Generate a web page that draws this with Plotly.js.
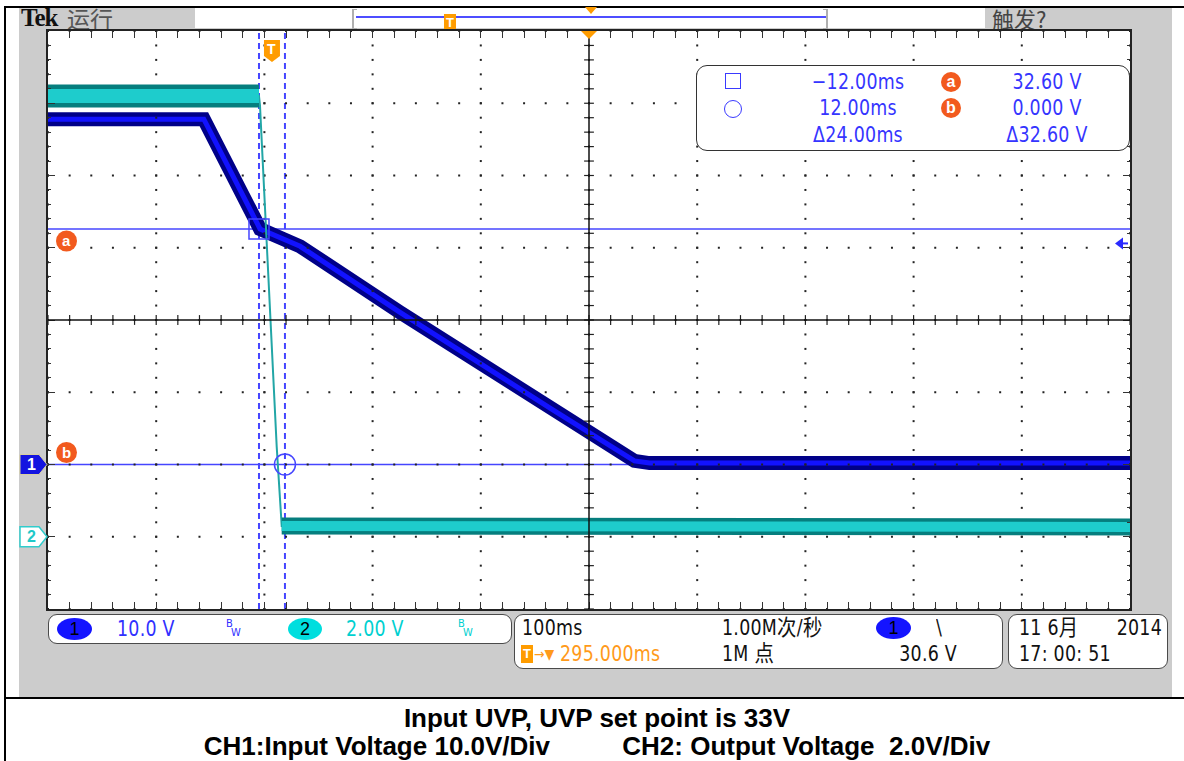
<!DOCTYPE html>
<html><head><meta charset="utf-8">
<script src="https://cdn.plot.ly/plotly-3.0.1.min.js"></script>
<style>
body{margin:0;background:#fff;}
#page{position:relative;width:1184px;height:761px;overflow:hidden;background:#fff;}
.a{position:absolute;white-space:pre;}
.tk{font-family:"Liberation Sans Narrow","DejaVu Sans Condensed","Noto Sans CJK SC",sans-serif;font-size:22px;letter-spacing:0.3px;line-height:22px;}
.cjk{font-family:"Noto Sans CJK SC",sans-serif;}
.box{position:absolute;background:#fff;border:1.5px solid #4a4a4a;border-radius:9px;box-sizing:border-box;}
.ell{position:absolute;border-radius:50%;text-align:center;font-family:"Liberation Sans",Arial,sans-serif;font-size:18px;line-height:22px;color:#000;}
#plot{position:absolute;left:0;top:0;width:1184px;height:761px;z-index:1;}
.ov{z-index:2;}
.cap{position:absolute;left:7px;width:1180px;text-align:center;font-family:"Liberation Sans",Arial,sans-serif;font-weight:bold;font-size:26px;line-height:28px;white-space:pre;color:#000;}
</style>
</head><body>
<div id="page">
  <!-- frame & panel -->
  <div class="a" style="left:19px;top:8px;width:1153px;height:689px;background:#cccccc;"></div>
  <div class="a" style="left:4px;top:6px;width:1180px;height:2px;background:#000;"></div>
  <div class="a" style="left:4px;top:6px;width:2px;height:755px;background:#000;"></div>
  <div class="a" style="left:4px;top:697px;width:1180px;height:2px;background:#000;"></div>
  <!-- header -->
  <div class="a" style="left:195px;top:8px;width:790px;height:20px;background:#fff;"></div>
  <div class="a" style="left:352px;top:9px;width:3px;height:18px;border-left:2px solid #b0b0b0;border-top:1px solid #b0b0b0;border-bottom:1px solid #b0b0b0;"></div>
  <div class="a" style="left:823px;top:9px;width:3px;height:18px;border-right:2px solid #b0b0b0;border-top:1px solid #b0b0b0;border-bottom:1px solid #b0b0b0;"></div>
  <div class="a" style="left:356px;top:16px;width:470px;height:2px;background:#4d4dff;"></div>
  <div class="a" style="left:585px;top:7px;width:0;height:0;border-left:6px solid transparent;border-right:6px solid transparent;border-top:7px solid #ff9c00;"></div>
  <div class="a" style="left:444px;top:14px;width:12px;height:16px;background:#ff9c00;color:#fff;font:bold 13px 'Liberation Sans',Arial;line-height:17px;text-align:center;border-bottom:1px solid #7a5a00;box-sizing:border-box;">T</div>
  <div class="a" style="left:21px;top:4px;font-family:'Liberation Serif',serif;font-weight:bold;font-size:25px;line-height:28px;letter-spacing:-1px;color:#111;">Tek</div>
  <div class="a cjk" style="left:67px;top:4px;font-size:23px;line-height:28px;color:#555;">运行</div>
  <div class="a cjk" style="left:992px;top:4px;font-size:22px;line-height:28px;color:#444;">触发?</div>

  <div id="plot"></div>

  <!-- cursor readout -->
  <div class="box ov" style="left:696px;top:65px;width:434px;height:86px;border-radius:11px;border-color:#333;"></div>
  <div class="a ov" style="left:725px;top:73px;width:16px;height:16px;border:1.5px solid #3a3aff;box-sizing:border-box;"></div>
  <div class="a ov" style="left:724px;top:100px;width:18px;height:18px;border:1.5px solid #3a3aff;border-radius:50%;box-sizing:border-box;"></div>

  <!-- status boxes -->
  <div class="box ov" style="left:48px;top:614px;width:464px;height:30px;"></div>
  <div class="box ov" style="left:514px;top:614px;width:489px;height:55px;"></div>
  <div class="box ov" style="left:1008px;top:614px;width:160px;height:55px;"></div>

  <!-- caption -->
  <div class="cap" style="top:704px;">Input UVP, UVP set point is 33V</div>
  <div class="cap" style="top:732px;">CH1:Input Voltage 10.0V/Div          CH2: Output Voltage  2.0V/Div</div>
</div>
<script>
// ---------------- data ----------------
const timeRangeMs = [-207, 793];      // 100 ms/div, trigger at 0
const ch1RangeV = [-20, 60];          // 10 V/div, CH1 ground 2 div below centre
const ch2RangeV = [-2, 14];           // 2 V/div, CH2 ground 3 div below centre

const ch1Time  = [-207, -63, -11, 12, 26, 118, 211, 257, 319, 335, 349, 500, 793];
const ch1Volts = [47.8, 47.8, 32.6, 31.2, 30.2, 21.1, 12.1, 7.8, 2.0, 0.5, 0.2, 0.2, 0.2];

const ch2Time  = [-207, -100, -12, -11.1, -4.9, -1.8, 4.4, 9.0, 300, 793];
const ch2Volts = [12.2, 12.2, 12.2, 11.95, 7.99, 6.0, 2.48, 0.3, 0.27, 0.27];
const ch2FallStart = 2, ch2FallEnd = 7;   // indices bounding the falling edge

const cursorTimes = [-12.0, 12.0];       // ms
const cursorVolts = [32.6, 0.0];         // V (CH1)
const triggerLevel = 30.6;               // V
const triggerPos = 0;                    // ms

// readout / status texts
const readoutTime = ["\u221212.00ms", "12.00ms", "\u039424.00ms"];
const readoutVolt = ["32.60 V", "0.000 V", "\u039432.60 V"];

// ---------------- helpers ----------------
const SX = 0.88;
function txt(s, x, cy, opt) {
  opt = opt || {};
  const d = document.createElement('div');
  const isTk = !opt.cls;
  d.className = 'a ov ' + (opt.cls || 'tk');
  d.textContent = s;
  const lh = opt.lh || 22;
  d.style.top = (cy - lh / 2) + 'px';
  d.style.lineHeight = lh + 'px';
  if (opt.size) d.style.fontSize = opt.size + 'px';
  d.style.color = opt.color || '#111';
  d.style.left = x + 'px';
  const sc = (isTk && !opt.noscale) ? ' scaleX(' + SX + ')' : '';
  if (opt.align === 'center') { d.style.transform = 'translateX(-50%)' + sc; d.style.transformOrigin = 'center'; }
  else if (opt.align === 'right') { d.style.transform = 'translateX(-100%)' + sc; d.style.transformOrigin = 'right center'; }
  else { d.style.transform = sc || 'none'; d.style.transformOrigin = 'left center'; }
  if (opt.ls !== undefined) d.style.letterSpacing = opt.ls + 'px';
  document.getElementById('page').appendChild(d);
  return d;
}
function ell(x, y, w, h, bg, label) {
  const d = document.createElement('div');
  d.className = 'ell ov';
  d.style.left = x + 'px'; d.style.top = y + 'px';
  d.style.width = w + 'px'; d.style.height = h + 'px';
  d.style.background = bg; d.textContent = label;
  document.getElementById('page').appendChild(d);
}

// readout
const rowY = [82, 108, 135];
const ROB = '#3535ff';
rowY.forEach((y, i) => {
  txt(readoutTime[i], 858, y, {align: 'center', color: ROB});
  txt(readoutVolt[i], 1047, y, {align: 'center', color: ROB});
});
[['a', 82], ['b', 108]].forEach(([l, y]) => {
  const d = document.createElement('div');
  d.className = 'a ov';
  Object.assign(d.style, {left: '941px', top: (y - 10) + 'px', width: '20px', height: '20px', borderRadius: '50%',
    background: '#f25a1e', color: '#fff', font: "bold 16px 'Liberation Sans',Arial", lineHeight: '19px', textAlign: 'center'});
  d.textContent = l;
  document.getElementById('page').appendChild(d);
});

// status bar
ell(57, 618, 35, 22, '#1414ff', '1');
txt('10.0 V', 117, 629, {color: '#3030ff'});
txt('B', 226, 624, {color: '#3030ff', size: 11, lh: 12, ls: 0, noscale: true});
txt('W', 231, 633, {color: '#3030ff', size: 11, lh: 12, ls: 0, noscale: true});
ell(288, 618, 34, 22, '#00dede', '2');
txt('2.00 V', 346, 629, {color: '#00d0d0'});
txt('B', 458, 624, {color: '#00d0d0', size: 11, lh: 12, ls: 0, noscale: true});
txt('W', 463, 633, {color: '#00d0d0', size: 11, lh: 12, ls: 0, noscale: true});

txt('100ms', 522, 628, {color: '#111'});
txt('1.00M次/秒', 722, 628, {color: '#111'});
ell(876, 617, 35, 22, '#1414ff', '1');
txt('\\', 936, 628, {color: '#111'});
(function(){
  const d = document.createElement('div');
  d.className = 'a ov';
  Object.assign(d.style, {left: '521px', top: '645px', width: '12px', height: '18px', background: '#ff9c00',
    color: '#fff', font: "bold 13px 'Liberation Sans',Arial", lineHeight: '18px', textAlign: 'center'});
  d.textContent = 'T';
  document.getElementById('page').appendChild(d);
})();
txt('\u2192\u25BC', 534, 654, {color: '#ff9a1a', size: 14, ls: 0, noscale: true});
txt('295.000ms', 560, 654, {color: '#ff9a1a'});
txt('1M 点', 722, 654, {color: '#111'});
txt('30.6 V', 957, 654, {align: 'right', color: '#111'});
txt('11 6月', 1019, 628, {color: '#111'});
txt('2014', 1162, 628, {align: 'right', color: '#111'});
txt('17: 00: 51', 1019, 654, {color: '#111'});

// ---------------- plot ----------------
const L = 48, R = 1130, T = 31, B = 609;
const W = 1184, H = 761;
const xDiv = 100, yDiv = 10;
const xMinor = xDiv / 5, yMinor = yDiv / 5;
const xCenter = (timeRangeMs[0] + timeRangeMs[1]) / 2;
const yCenter = (ch1RangeV[0] + ch1RangeV[1]) / 2;

// graticule dots (decoration, built from the axis ranges)
const gx = [], gy = [];
for (let i = 0; i <= 10; i++) {
  const xv = timeRangeMs[0] + i * xDiv;
  for (let j = 0; j <= 40; j++) { gx.push(xv); gy.push(ch1RangeV[0] + j * yMinor); }
}
for (let j = 0; j <= 8; j++) {
  const yv = ch1RangeV[0] + j * yDiv;
  for (let i = 0; i <= 50; i++) { gx.push(timeRangeMs[0] + i * xMinor); gy.push(yv); }
}
const tx = [], ty = [], vx = [], vy = [];
for (let i = 0; i <= 50; i++) { tx.push(timeRangeMs[0] + i * xMinor); ty.push(yCenter); }
for (let j = 0; j <= 40; j++) { vx.push(xCenter); vy.push(ch1RangeV[0] + j * yMinor); }

const ch2High = {x: ch2Time.slice(0, ch2FallStart + 1), y: ch2Volts.slice(0, ch2FallStart + 1)};
const ch2Low = {x: ch2Time.slice(ch2FallEnd), y: ch2Volts.slice(ch2FallEnd)};

const traces = [
  {x: ch2Time, y: ch2Volts, yaxis: 'y2', mode: 'lines', line: {color: '#22a6a6', width: 2}},
  {x: ch2High.x, y: ch2High.y, yaxis: 'y2', mode: 'lines', line: {color: '#067e7e', width: 23}},
  {x: ch2High.x, y: ch2High.y, yaxis: 'y2', mode: 'lines', line: {color: '#1ecccc', width: 14}},
  {x: ch2Low.x, y: ch2Low.y, yaxis: 'y2', mode: 'lines', line: {color: '#067e7e', width: 17}},
  {x: ch2Low.x, y: ch2Low.y, yaxis: 'y2', mode: 'lines', line: {color: '#1ecccc', width: 10}},
  {x: ch1Time, y: ch1Volts, mode: 'lines', line: {color: '#000088', width: 14}},
  {x: ch1Time, y: ch1Volts, mode: 'lines', line: {color: '#1212ff', width: 5}},
  {x: gx, y: gy, mode: 'markers', marker: {symbol: 'square', size: 2, color: '#222', line: {width: 0}}},
  {x: tx, y: ty, mode: 'markers', marker: {symbol: 'line-ns', size: 7, line: {width: 1.2, color: '#222'}}},
  {x: vx, y: vy, mode: 'markers', marker: {symbol: 'line-ew', size: 7, line: {width: 1.2, color: '#222'}}}
];

const CUR = '#4646ff';
const shapes = [];
cursorTimes.forEach(t => shapes.push({type: 'line', layer: 'between', xref: 'x', yref: 'paper', x0: t, x1: t, y0: 0, y1: 1,
  line: {color: CUR, width: 2, dash: '6px,4px'}}));
cursorVolts.forEach(v => shapes.push({type: 'line', layer: 'between', xref: 'paper', yref: 'y', x0: 0, x1: 1, y0: v, y1: v,
  line: {color: CUR, width: 1.5}}));
// centre lines
shapes.push({type: 'line', layer: 'above', xref: 'x', yref: 'paper', x0: xCenter, x1: xCenter, y0: 0, y1: 1, line: {color: '#111', width: 1.5}});
shapes.push({type: 'line', layer: 'above', xref: 'paper', yref: 'y', x0: 0, x1: 1, y0: yCenter, y1: yCenter, line: {color: '#111', width: 1.5}});
// cursor markers
shapes.push({type: 'rect', layer: 'above', xref: 'x', yref: 'y', xsizemode: 'pixel', ysizemode: 'pixel',
  xanchor: cursorTimes[0], yanchor: cursorVolts[0], x0: -10, x1: 10, y0: -10, y1: 10, line: {color: CUR, width: 1.5}});
shapes.push({type: 'circle', layer: 'above', xref: 'x', yref: 'y', xsizemode: 'pixel', ysizemode: 'pixel',
  xanchor: cursorTimes[1], yanchor: cursorVolts[1], x0: -10.5, x1: 10.5, y0: -10.5, y1: 10.5, line: {color: CUR, width: 1.5}});
// a / b labels
shapes.push({type: 'circle', layer: 'above', xref: 'paper', yref: 'y', xsizemode: 'pixel', ysizemode: 'pixel',
  xanchor: 0, yanchor: cursorVolts[0], x0: 8, x1: 29, y0: -22.5, y1: -1.5, fillcolor: '#f25a1e', line: {width: 0}});
shapes.push({type: 'circle', layer: 'above', xref: 'paper', yref: 'y', xsizemode: 'pixel', ysizemode: 'pixel',
  xanchor: 0, yanchor: cursorVolts[1], x0: 8, x1: 29, y0: 1.5, y1: 22.5, fillcolor: '#f25a1e', line: {width: 0}});
// channel ground markers
const pent = 'M-28,10 L-9,10 L-1,0 L-9,-10 L-28,-10 Z';
shapes.push({type: 'path', layer: 'above', xref: 'paper', yref: 'y', xsizemode: 'pixel', ysizemode: 'pixel',
  xanchor: 0, yanchor: 0, path: pent, fillcolor: '#1414e0', line: {color: '#d8d0a0', width: 1}});
shapes.push({type: 'path', layer: 'above', xref: 'paper', yref: 'y2', xsizemode: 'pixel', ysizemode: 'pixel',
  xanchor: 0, yanchor: 0, path: pent, fillcolor: '#ffffff', line: {color: '#30cccc', width: 1.5}});
// trigger position marker
shapes.push({type: 'path', layer: 'above', xref: 'x', yref: 'paper', xsizemode: 'pixel', ysizemode: 'pixel',
  xanchor: triggerPos, yanchor: 1, path: 'M-8,-9 L8,-9 L8,-25 L0,-31 L-8,-25 Z', fillcolor: '#ff9c00', line: {width: 0}});
// horizontal position marker
shapes.push({type: 'path', layer: 'above', xref: 'x', yref: 'paper', xsizemode: 'pixel', ysizemode: 'pixel',
  xanchor: xCenter, yanchor: 1, path: 'M-8,0 L8,0 L0,-8 Z', fillcolor: '#ff9c00', line: {width: 0}});
// trigger level arrow
shapes.push({type: 'path', layer: 'above', xref: 'paper', yref: 'y', xsizemode: 'pixel', ysizemode: 'pixel',
  xanchor: 1, yanchor: triggerLevel, path: 'M-15,0 L-7,6 L-7,-6 Z', fillcolor: '#2a2aff', line: {width: 0}});
shapes.push({type: 'path', layer: 'above', xref: 'paper', yref: 'y', xsizemode: 'pixel', ysizemode: 'pixel',
  xanchor: 1, yanchor: triggerLevel, path: 'M-8,0 L-2,0', line: {color: '#2a2aff', width: 2}});

const annFont = {family: 'Liberation Sans, Arial', size: 15, color: '#fff', weight: 'bold'};
const annotations = [
  {xref: 'paper', x: 0, xshift: 18.5, yref: 'y', y: cursorVolts[0], yshift: -12, text: '<b>a</b>', showarrow: false,
   xanchor: 'center', yanchor: 'middle', font: annFont},
  {xref: 'paper', x: 0, xshift: 18.5, yref: 'y', y: cursorVolts[1], yshift: 12, text: '<b>b</b>', showarrow: false,
   xanchor: 'center', yanchor: 'middle', font: annFont},
  {xref: 'paper', x: 0, xshift: -17, yref: 'y', y: 0, text: '<b>1</b>', showarrow: false,
   xanchor: 'center', yanchor: 'middle', font: {family: 'Liberation Sans, Arial', size: 16, color: '#fff'}},
  {xref: 'paper', x: 0, xshift: -17, yref: 'y2', y: 0, text: '<b>2</b>', showarrow: false,
   xanchor: 'center', yanchor: 'middle', font: {family: 'Liberation Sans, Arial', size: 16, color: '#1ec8c8'}},
  {xref: 'x', x: triggerPos, yref: 'paper', y: 1, yshift: -18, text: '<b>T</b>', showarrow: false,
   xanchor: 'center', yanchor: 'middle', font: {family: 'Liberation Sans, Arial', size: 14, color: '#fff'}}
];

const axCommon = {showgrid: false, zeroline: false, showticklabels: false, showline: true, linewidth: 2, linecolor: '#222',
  mirror: 'allticks', ticks: 'inside', ticklen: 7, tickwidth: 1, tickcolor: '#333'};

const layout = {
  width: W, height: H, autosize: false,
  margin: {l: L, r: W - R, t: T, b: H - B, pad: 0},
  paper_bgcolor: 'rgba(0,0,0,0)', plot_bgcolor: '#ffffff',
  showlegend: false,
  xaxis: Object.assign({}, axCommon, {range: timeRangeMs, tick0: timeRangeMs[0], dtick: xDiv,
    minor: {tick0: timeRangeMs[0], dtick: xMinor, ticks: 'inside', ticklen: 3, tickcolor: '#333', showgrid: false}}),
  yaxis: Object.assign({}, axCommon, {range: ch1RangeV, tick0: ch1RangeV[0], dtick: yDiv,
    minor: {tick0: ch1RangeV[0], dtick: yMinor, ticks: 'inside', ticklen: 3, tickcolor: '#333', showgrid: false}}),
  yaxis2: {range: ch2RangeV, overlaying: 'y', visible: false, showgrid: false, zeroline: false},
  shapes: shapes,
  annotations: annotations
};

Plotly.newPlot('plot', traces, layout, {staticPlot: true, displayModeBar: false});
</script>
</body></html>
